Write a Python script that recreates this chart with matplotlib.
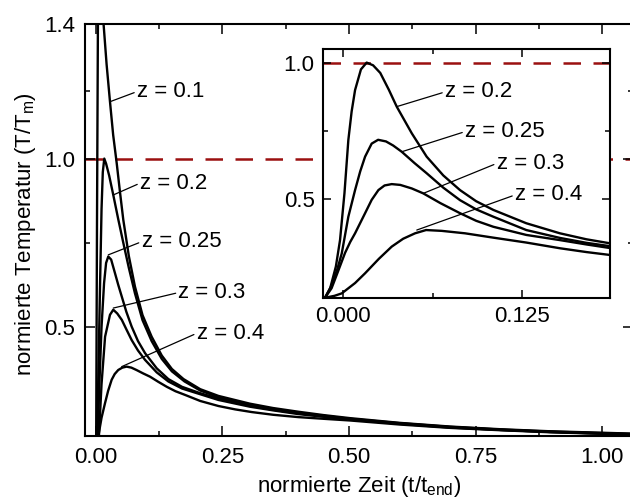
import matplotlib
matplotlib.use("Agg")
import matplotlib.pyplot as plt

plt.rcParams['font.family'] = ['Liberation Sans', 'DejaVu Sans']
plt.rcParams['mathtext.fontset'] = 'custom'
plt.rcParams['mathtext.rm'] = 'Liberation Sans'
plt.rcParams['mathtext.default'] = 'regular'

# --- main plot data (normierte Zeit, normierte Temperatur) ---
t_z01 = [0.0, 0.002, 0.004, 0.007, 0.010, 0.0145, 0.021, 0.0277, 0.034, 0.041, 0.0475, 0.054,
         0.065, 0.077, 0.092, 0.11, 0.13, 0.15, 0.173, 0.206, 0.242, 0.304, 0.35, 0.40, 0.45,
         0.502, 0.6, 0.70, 0.8, 0.897, 1.06]
T_z01 = [0.0, 0.80, 1.45, 1.62, 1.60, 1.41, 1.28, 1.169, 1.07, 0.986, 0.90, 0.818,
         0.71, 0.62, 0.535, 0.471, 0.415, 0.375, 0.345, 0.315, 0.295, 0.272, 0.259, 0.248, 0.238,
         0.229, 0.215, 0.204, 0.196, 0.190, 0.183]

t_z02 = [0.0, 0.004, 0.008, 0.011, 0.0135, 0.0164, 0.020, 0.026, 0.0342, 0.044, 0.054, 0.065,
         0.077, 0.092, 0.11, 0.13, 0.15, 0.175, 0.206, 0.242, 0.304, 0.35, 0.40, 0.45, 0.502,
         0.6, 0.70, 0.8, 0.897, 1.06]
T_z02 = [0.0, 0.30, 0.62, 0.85, 0.96, 1.0, 0.985, 0.95, 0.892, 0.82, 0.75, 0.675,
         0.60, 0.52, 0.458, 0.405, 0.368, 0.338, 0.311, 0.291, 0.268, 0.256, 0.245, 0.236, 0.227,
         0.214, 0.203, 0.195, 0.189, 0.182]

t_z025 = [0.0, 0.006, 0.011, 0.016, 0.020, 0.0243, 0.030, 0.0375, 0.044, 0.051, 0.06, 0.0705,
          0.083, 0.097, 0.12, 0.143, 0.17, 0.206, 0.242, 0.304, 0.35, 0.40, 0.45, 0.502, 0.6,
          0.70, 0.8, 0.897, 1.06]
T_z025 = [0.0, 0.30, 0.50, 0.63, 0.69, 0.709, 0.70, 0.66, 0.625, 0.59, 0.545, 0.501,
          0.458, 0.422, 0.377, 0.345, 0.322, 0.303, 0.287, 0.266, 0.254, 0.243, 0.234, 0.226, 0.213,
          0.202, 0.194, 0.188, 0.181]

t_z03 = [0.0, 0.006, 0.011, 0.018, 0.0277, 0.0342, 0.042, 0.051, 0.06, 0.0705, 0.083, 0.097,
         0.12, 0.143, 0.17, 0.206, 0.242, 0.304, 0.35, 0.40, 0.45, 0.502, 0.6, 0.70, 0.8,
         0.897, 1.06]
T_z03 = [0.0, 0.18, 0.33, 0.471, 0.536, 0.551, 0.54, 0.521, 0.493, 0.461, 0.43, 0.402,
         0.365, 0.338, 0.317, 0.300, 0.283, 0.263, 0.252, 0.241, 0.233, 0.225, 0.212, 0.201, 0.194,
         0.188, 0.180]

t_z04 = [0.0, 0.0045, 0.011, 0.0178, 0.024, 0.031, 0.037, 0.044, 0.052, 0.0606, 0.07, 0.08,
         0.093, 0.107, 0.123, 0.14, 0.157, 0.176, 0.206, 0.242, 0.275, 0.308, 0.35, 0.40, 0.45,
         0.502, 0.6, 0.70, 0.8, 0.897, 1.06]
T_z04 = [0.0, 0.174, 0.23, 0.273, 0.31, 0.343, 0.36, 0.372, 0.379, 0.382, 0.379, 0.372,
         0.362, 0.352, 0.337, 0.322, 0.309, 0.298, 0.280, 0.265, 0.255, 0.247, 0.239, 0.232, 0.227,
         0.222, 0.210, 0.200, 0.193, 0.187, 0.180]

# --- inset data ---
ti_z02 = [-0.0126, -0.009, -0.005, -0.0021, 0.001, 0.0037, 0.006, 0.0084, 0.0125, 0.0165,
          0.021, 0.026, 0.032, 0.0375, 0.048, 0.0584, 0.07, 0.0817, 0.093, 0.105, 0.128,
          0.1515, 0.17, 0.19]
Ti_z02 = [0.135, 0.17, 0.25, 0.347, 0.52, 0.715, 0.82, 0.899, 0.975, 1.0,
          0.99, 0.962, 0.90, 0.838, 0.74, 0.654, 0.585, 0.531, 0.49, 0.458, 0.409,
          0.372, 0.35, 0.332]

ti_z025 = [-0.0126, -0.008, -0.004, -0.0009, 0.0037, 0.0084, 0.012, 0.0154, 0.020, 0.0245,
           0.030, 0.035, 0.041, 0.05, 0.0584, 0.07, 0.0817, 0.093, 0.105, 0.128, 0.1515,
           0.17, 0.19]
Ti_z025 = [0.135, 0.18, 0.24, 0.298, 0.433, 0.531, 0.60, 0.654, 0.702, 0.716,
           0.71, 0.695, 0.672, 0.63, 0.593, 0.54, 0.494, 0.46, 0.433, 0.384, 0.355,
           0.337, 0.322]

ti_z03 = [-0.0126, -0.008, -0.004, 0.0014, 0.005, 0.0084, 0.0154, 0.020, 0.0247, 0.029,
          0.034, 0.040, 0.048, 0.056, 0.068, 0.0817, 0.093, 0.105, 0.128, 0.1515, 0.17, 0.19]
Ti_z03 = [0.135, 0.17, 0.225, 0.30, 0.34, 0.372, 0.446, 0.495, 0.531, 0.548,
          0.553, 0.55, 0.537, 0.519, 0.483, 0.446, 0.418, 0.396, 0.366, 0.347, 0.331, 0.315]

ti_z04 = [-0.0126, -0.006, -0.0009, 0.0084, 0.0154, 0.025, 0.034, 0.042, 0.0503, 0.058,
          0.0689, 0.0852, 0.105, 0.128, 0.1515, 0.17, 0.19]
Ti_z04 = [0.135, 0.142, 0.151, 0.189, 0.225, 0.278, 0.323, 0.352, 0.372, 0.384,
          0.381, 0.372, 0.356, 0.338, 0.317, 0.303, 0.290]

labels = ['z = 0.1', 'z = 0.2', 'z = 0.25', 'z = 0.3', 'z = 0.4']
main_curves = [(t_z01, T_z01), (t_z02, T_z02), (t_z025, T_z025), (t_z03, T_z03), (t_z04, T_z04)]
inset_curves = [(ti_z02, Ti_z02), (ti_z025, Ti_z025), (ti_z03, Ti_z03), (ti_z04, Ti_z04)]

# label anchor points (on curve) and text positions
main_xy = [(0.0277, 1.169), (0.0342, 0.892), (0.0243, 0.714), (0.0342, 0.556), (0.0508, 0.382)]
main_txt = [(0.081, 1.199), (0.087, 0.927), (0.090, 0.753), (0.163, 0.602), (0.199, 0.481)]
inset_xy = [(0.0375, 0.838), (0.041, 0.672), (0.0561, 0.519), (0.0515, 0.384)]
inset_txt = [(0.0712, 0.892), (0.0852, 0.746), (0.1073, 0.629), (0.1201, 0.513)]

red = '#9b1010'
fs = 16

fig = plt.figure(figsize=(6.3, 4.99), dpi=100)
ax = fig.add_axes([0.1349, 0.1263, 0.8698, 0.8257])

ax.axhline(1.0, color=red, lw=1.8, dashes=(7, 5), zorder=1)
for t, T in main_curves:
    ax.plot(t, T, color='black', lw=1.7, zorder=2)

for lab, xy, xt in zip(labels, main_xy, main_txt):
    ax.annotate(lab, xy=xy, xytext=xt, ha='left', va='center', fontsize=fs,
                arrowprops=dict(arrowstyle='-', lw=0.9, color='black',
                                shrinkA=0, shrinkB=0, relpos=(0, 0.5)))

ax.set_xlim(-0.0217, 1.061)
ax.set_ylim(0.176, 1.4)
ax.set_xticks([0, 0.25, 0.5, 0.75, 1.0])
ax.set_xticklabels(['0.00', '0.25', '0.50', '0.75', '1.00'])
ax.set_xticks([0.125, 0.375, 0.625, 0.875], minor=True)
ax.set_yticks([0.5, 1.0, 1.4])
ax.set_yticklabels(['0.5', '1.0', '1.4'])
ax.set_yticks([0.75, 1.2], minor=True)
ax.tick_params(which='both', direction='in', top=True, right=True, width=1.1,
               labelsize=fs, colors='black')
ax.tick_params(which='major', length=7)
ax.tick_params(which='minor', length=3.5)
ax.tick_params(axis='x', pad=8)
ax.tick_params(axis='y', pad=7)
for s in ax.spines.values():
    s.set_linewidth(1.5)

ax.set_xlabel('normierte Zeit (t/t$_{end}$)', fontsize=fs)
ax.set_ylabel('normierte Temperatur (T/T$_{m}$)', fontsize=fs)
ax.xaxis.set_label_coords(0.5, -0.093)
ax.yaxis.set_label_coords(-0.085, 0.49)

# inset
axi = fig.add_axes([0.5127, 0.4028, 0.4556, 0.499])
axi.set_facecolor('white')
axi.axhline(1.0, color=red, lw=1.8, dashes=(7, 5), zorder=1)
for t, T in inset_curves:
    axi.plot(t, T, color='black', lw=1.7, zorder=2)
for lab, xy, xt in zip(labels[1:], inset_xy, inset_txt):
    axi.annotate(lab, xy=xy, xytext=xt, ha='left', va='center', fontsize=fs,
                 arrowprops=dict(arrowstyle='-', lw=0.9, color='black',
                                 shrinkA=0, shrinkB=0, relpos=(0, 0.5)))
axi.set_xlim(-0.014, 0.1865)
axi.set_ylim(0.134, 1.05)
axi.set_xticks([0, 0.125])
axi.set_xticklabels(['0.000', '0.125'])
axi.set_xticks([0.0625], minor=True)
axi.set_yticks([0.5, 1.0])
axi.set_yticklabels(['0.5', '1.0'])
axi.set_yticks([0.75], minor=True)
axi.tick_params(which='both', direction='in', top=True, right=True, width=1.1,
                labelsize=fs)
axi.tick_params(which='major', length=6)
axi.tick_params(which='minor', length=3.5)
axi.tick_params(axis='x', pad=6)
axi.tick_params(axis='y', pad=6)
for s in axi.spines.values():
    s.set_linewidth(1.5)

fig.savefig('out.png', dpi=100)
